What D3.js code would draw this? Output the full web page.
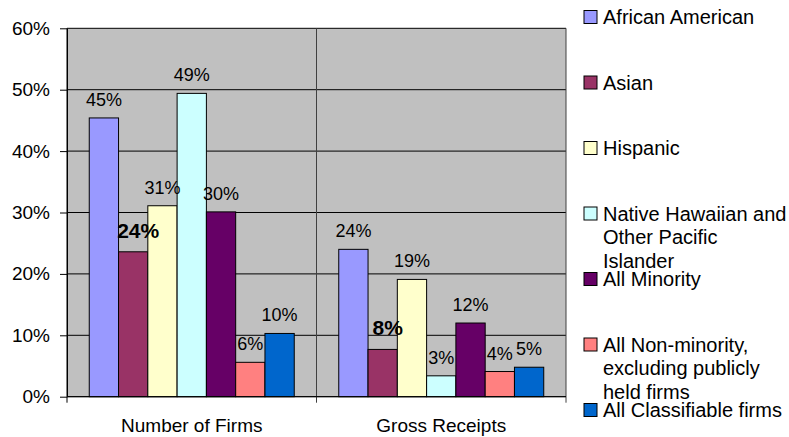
<!DOCTYPE html>
<html>
<head>
<meta charset="utf-8">
<script src="https://cdn.jsdelivr.net/npm/d3@7"></script>
<style>
  body { margin: 0; background: #fff; }
  text { font-family: "Liberation Sans", Arial, sans-serif; fill: #000; }
</style>
</head>
<body>
<div id="chart"></div>
<script>
// chart data
const categories = ["Number of Firms", "Gross Receipts"];
const seriesNames = [
  "African American",
  "Asian",
  "Hispanic",
  "Native Hawaiian and\nOther Pacific\nIslander",
  "All Minority",
  "All Non-minority,\nexcluding publicly\nheld firms",
  "All Classifiable firms"
];
const seriesColors = ["#9999FF", "#993366", "#FFFFCC", "#CCFFFF", "#660066", "#FF8080", "#0066CC"];
const firmsValues = [0.454, 0.236, 0.311, 0.494, 0.301, 0.056, 0.103];
const receiptsValues = [0.240, 0.077, 0.191, 0.034, 0.120, 0.041, 0.048];
const yTicks = [0, 0.1, 0.2, 0.3, 0.4, 0.5, 0.6];
const boldSeries = ["Asian"];

const width = 789, height = 437;
const margin = { top: 28.3, left: 67, right: 223, bottom: 40.3 };

const svg = d3.select("#chart").append("svg")
  .attr("width", width)
  .attr("height", height);

let y = d3.scaleLinear()
  .domain([0, 0.6])
  .range([height - margin.bottom, margin.top]);

let x0 = d3.scaleBand()
  .domain(categories)
  .range([margin.left, width - margin.right]);

let x1 = d3.scaleBand()
  .domain(seriesNames)
  .range([0, x0.bandwidth()])
  .paddingOuter(0.76);

const colour = d3.scaleOrdinal().domain(seriesNames).range(seriesColors);

// plot background
svg.append("rect")
  .attr("x", margin.left)
  .attr("y", margin.top)
  .attr("width", width - margin.right - margin.left)
  .attr("height", y(0) - margin.top)
  .attr("fill", "#C0C0C0");

// horizontal gridlines
svg.append("g")
  .selectAll("line")
  .data(yTicks)
  .enter()
  .append("line")
  .attr("x1", margin.left)
  .attr("x2", width - margin.right)
  .attr("y1", d => y(d))
  .attr("y2", d => y(d))
  .attr("stroke", "#000")
  .attr("stroke-width", 1);

// vertical gridlines on category boundaries
const bounds = categories.map(c => x0(c)).concat([x0.range()[1]]);
svg.append("g")
  .selectAll("line")
  .data(bounds)
  .enter()
  .append("line")
  .attr("x1", d => d)
  .attr("x2", d => d)
  .attr("y1", margin.top)
  .attr("y2", y(0) + 6)
  .attr("stroke", d => d == margin.left ? "#000" : "#404040")
  .attr("stroke-width", 1);

// bars
const rows = [];
categories.forEach((c, ci) => {
  const vals = ci == 0 ? firmsValues : receiptsValues;
  seriesNames.forEach((s, si) => rows.push({ cat: c, name: s, value: vals[si] }));
});

svg.append("g")
  .selectAll("rect")
  .data(rows)
  .enter()
  .append("rect")
  .attr("x", d => x0(d.cat) + x1(d.name))
  .attr("y", d => y(d.value))
  .attr("width", x1.bandwidth())
  .attr("height", d => y(0) - y(d.value))
  .attr("fill", d => colour(d.name))
  .attr("stroke", "#000")
  .attr("stroke-width", 1);

// value labels
svg.append("g")
  .selectAll("text")
  .data(rows)
  .enter()
  .append("text")
  .attr("x", d => x0(d.cat) + x1(d.name) + x1.bandwidth() / 2 + (boldSeries.includes(d.name) ? 5 : 0))
  .attr("y", d => y(d.value) - (boldSeries.includes(d.name) ? 14 : 12))
  .attr("text-anchor", "middle")
  .style("font-size", d => boldSeries.includes(d.name) ? "21px" : "18px")
  .style("font-weight", d => boldSeries.includes(d.name) ? "bold" : "normal")
  .text(d => d3.format(".0%")(d.value));

// y axis
const yAxis = d3.axisLeft(y)
  .tickValues(yTicks)
  .tickFormat(d3.format(".0%"))
  .tickSize(7)
  .tickSizeOuter(0)
  .tickPadding(10);

const yg = svg.append("g")
  .attr("transform", `translate(${margin.left},0)`)
  .call(yAxis);
yg.select(".domain").attr("stroke", "#000");
yg.selectAll(".tick line").attr("stroke", "#000");
yg.selectAll("text")
  .style("font-size", "19px")
  .style("font-family", "'Liberation Sans', Arial, sans-serif")
  .attr("fill", "#000");

// x axis line
svg.append("line")
  .attr("x1", margin.left)
  .attr("x2", width - margin.right)
  .attr("y1", y(0))
  .attr("y2", y(0))
  .attr("stroke", "#000");

svg.append("g")
  .selectAll("text")
  .data(categories)
  .enter()
  .append("text")
  .attr("x", d => x0(d) + x0.bandwidth() / 2)
  .attr("y", y(0) + 35)
  .attr("text-anchor", "middle")
  .style("font-size", "19px")
  .text(d => d);

// legend
const legend = svg.append("g")
  .selectAll("g")
  .data(seriesNames)
  .enter()
  .append("g")
  .attr("transform", (d, i) => `translate(584, ${17 + i * 65.5})`);

legend.append("rect")
  .attr("x", 0)
  .attr("y", -6.5)
  .attr("width", 13)
  .attr("height", 13)
  .attr("fill", d => colour(d))
  .attr("stroke", "#000")
  .attr("stroke-width", 1);

legend.append("text")
  .attr("x", 19)
  .attr("y", 7)
  .style("font-size", "20px")
  .selectAll("tspan")
  .data(d => d.split("\n"))
  .enter()
  .append("tspan")
  .attr("x", 19)
  .attr("dy", (d, i) => i == 0 ? 0 : 23.5)
  .text(d => d);
</script>
</body>
</html>
